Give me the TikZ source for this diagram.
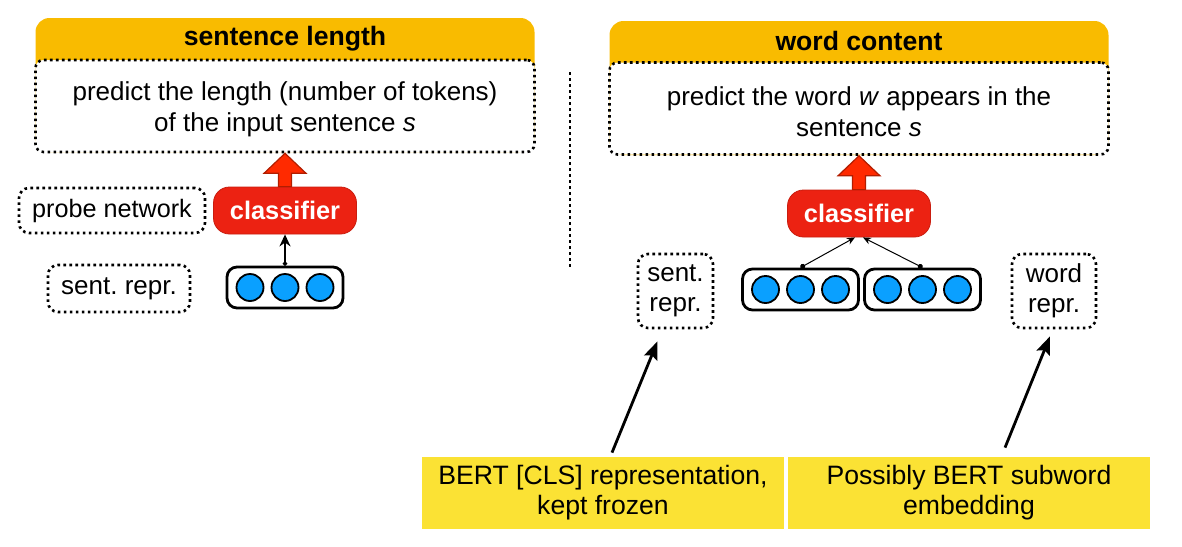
\documentclass[tikz,border=0pt]{standalone}
\usepackage{fontspec}
\setmainfont{Liberation Sans}
\usepackage{xcolor}
\usetikzlibrary{arrows.meta, positioning}
\definecolor{headorange}{RGB}{249,187,0}
\definecolor{clsred}{RGB}{236,34,18}
\definecolor{liftred}{RGB}{255,42,0}
\definecolor{unitblue}{RGB}{10,160,255}
\definecolor{bertyellow}{RGB}{251,226,52}
\tikzset{
  header/.style={fill=headorange, rounded corners=7pt, minimum width=249.5pt, minimum height=67pt, inner sep=0pt},
  headtitle/.style={font=\fontsize{13.3}{15}\selectfont\bfseries},
  dots/.style={dash pattern=on 1.3pt off 1.7pt, line width=1.3pt},
  taskbox/.style={draw, dots, fill=white, rounded corners=4pt, minimum width=249.5pt, minimum height=46pt, align=center, inner sep=0pt, font=\fontsize{13}{15.5}\selectfont},
  classifier/.style={fill=clsred, draw=clsred!85!black, rounded corners=8pt, text=white, font=\fontsize{12.7}{15}\selectfont\bfseries, minimum width=71.5pt, minimum height=23.5pt, inner sep=0pt},
  notebox/.style={draw, dots, rounded corners=5pt, align=center, inner sep=0pt},
  vecbox/.style={draw, line width=1.4pt, rounded corners=5pt, minimum width=58pt, minimum height=20.5pt, inner sep=0pt},
  unit/.style={circle, draw, line width=0.9pt, fill=unitblue, minimum size=13.5pt, inner sep=0pt},
  bertbox/.style={fill=bertyellow, minimum width=181pt, minimum height=36pt, align=center, inner sep=0pt, font=\fontsize{13.3}{15}\selectfont},
  lift/.style={fill=liftred, draw=liftred!70!black, line width=0.6pt, line join=miter},
  feed/.style={line width=1pt, {Circle[length=2pt]}-{Stealth[length=6pt, width=5.5pt]}},
  feedthin/.style={line width=0.5pt, {Circle[length=2.5pt]}-{Stealth[length=4pt, width=3.5pt]}},
  ptr/.style={line width=1.4pt, -{Stealth[length=9pt, width=7pt, inset=1.5pt]}},
  sepline/.style={dots}
}
\begin{document}
\frenchspacing
\begin{tikzpicture}[x=0.5pt, y=-0.5pt, font=\fontsize{13}{15}\selectfont]
\useasboundingbox (0,0) rectangle (1182,546);

% Task: sentence length
\node[header] (head1) at (285,85) {};
\node[taskbox] (task1) at (285,106) {\rule{0pt}{13pt}predict the length (number of tokens)\\of the input sentence \textit{s}};
\node[headtitle] (title1) at (285,39) {sentence length};

\node[classifier] (cls1) at (285,210.5) {classifier};
\node[notebox, minimum width=93pt, minimum height=22.5pt, font=\fontsize{12.6}{15}\selectfont] (probe) at (112,210.5) {probe network};
\node[notebox, minimum width=71pt, minimum height=23.5pt] (sent1) at (119,288.5) {sent. repr.};

\node[vecbox] (vec1) at (285,287.5) {};
\foreach \i/\n in {-1/a,0/b,1/c}
  \node[unit] (vec1\n) at ([xshift=\i*17.5pt]vec1.center) {};

\draw[feed] (vec1.north) -- (cls1.south);

% separator
\coordinate (septop) at (570,72);
\coordinate (sepbot) at (570,268);
\draw[sepline] (septop) -- (sepbot);

% Task: word content
\node[header] (head2) at (859,88) {};
\node[taskbox] (task2) at (859,108.5) {\rule{0pt}{13pt}predict the word \textit{w} appears in the\\sentence \textit{s}};
\node[headtitle] (title2) at (859,41) {word content};

\node[classifier] (cls2) at (859,213.5) {classifier};
\node[notebox, minimum width=37.5pt, minimum height=37pt] (sent2) at (675.5,291) {sent.\\repr.};
\node[notebox, minimum width=42pt, minimum height=37pt] (word2) at (1054,291) {word\\repr.};

\node[vecbox] (vec2) at (800.5,289.5) {};
\node[vecbox] (vec3) at (922.5,289.5) {};
\foreach \v in {vec2,vec3}
  \foreach \i/\n in {-1/a,0/b,1/c}
    \node[unit] (\v\n) at ([xshift=\i*17.5pt]\v.center) {};

\draw[feedthin] (vec2.north) -- ([xshift=-2pt]cls2.south);
\draw[feedthin] (vec3.north) -- ([xshift=2pt]cls2.south);

% red arrows up to the tasks
\foreach \t/\c in {task1/cls1, task2/cls2}
  \draw[lift] ([xshift=-3.25pt]\c.north) -- ([xshift=-3.25pt,yshift=-10pt]\t.south)
    -- ([xshift=-10.5pt,yshift=-10pt]\t.south) -- (\t.south)
    -- ([xshift=10.5pt,yshift=-10pt]\t.south) -- ([xshift=3.25pt,yshift=-10pt]\t.south)
    -- ([xshift=3.25pt]\c.north) -- cycle;

% BERT notes
\node[bertbox] (bertcls) at (603,493) {BERT [CLS] representation,\\kept frozen};
\node[bertbox] (bertsub) at (969,493) {Possibly BERT subword\\embedding};

\draw[ptr] ([xshift=4.5pt,yshift=2pt]bertcls.north) -- ([xshift=-9pt,yshift=-6pt]sent2.south);
\draw[ptr] ([xshift=18pt,yshift=4.5pt]bertsub.north) -- ([xshift=-2pt,yshift=-3.5pt]word2.south);
\end{tikzpicture}
\end{document}
